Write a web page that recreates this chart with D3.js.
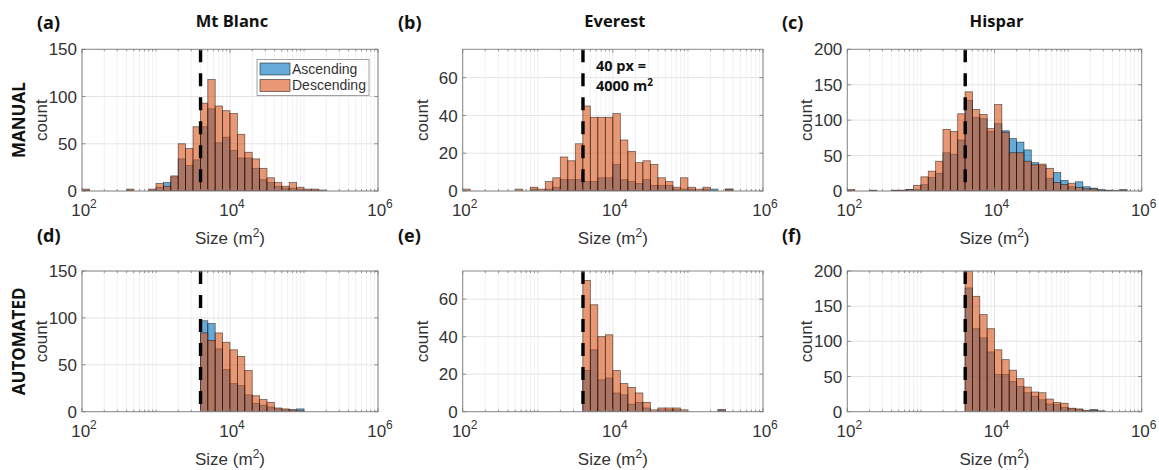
<!DOCTYPE html>
<html>
<head>
<meta charset="utf-8">
<script src="https://cdn.jsdelivr.net/npm/d3@7"></script>
<style>
  body { margin: 0; background: #fff; }
  svg { display: block; }
</style>
</head>
<body>
<svg id="fig" width="1159" height="470"></svg>
<script>
// ---- Data: counts per log10 bin (bin k spans 10^(2+0.1k) .. 10^(2+0.1(k+1))), 40 bins ----
const sizeDomain = [1e2, 1e6];
const threshold = 4000; // 40 px = 4000 m^2
const seriesNames = ["Ascending", "Descending"];
const xTickValues = [1e2, 1e4, 1e6];
const xTickExponents = ["2", "4", "6"];

const blancManualAsc  = [1,0,0,0,0,0,1,0,0,1, 4,9,15,34,27,33,68,87,51,57, 43,35,35,24,12,9,5,3,3,2, 1,1,0,0,0,0,0,0,0,0];
const blancManualDesc = [2,0,0,0,0,0,2,0,0,2, 8,5,16,50,45,68,93,118,90,85, 82,60,41,34,24,14,9,5,9,4, 2,2,1,0,0,0,0,0,0,0];

const everestManualAsc  = [0,0,0,0,0,0,0,0,0,1, 0,1,2,6,6,6,5,5,7,7, 14,6,5,4,6,3,3,3,1,1, 1,0,1,1,0,1,0,0,0,0];
const everestManualDesc = [1,0,0,0,0,0,0,1,0,2, 1,5,7,18,16,25,45,39,39,39, 41,27,21,15,16,14,7,5,2,7, 2,1,2,0,0,1,0,0,0,0];

const hisparManualAsc  = [1,0,0,1,0,0,1,1,2,2, 9,19,25,54,52,72,128,104,102,84, 95,85,74,69,58,40,36,18,26,15, 6,13,6,4,2,1,1,2,0,0];
const hisparManualDesc = [2,0,0,1,0,0,1,1,2,8, 20,28,42,87,84,109,140,115,108,88, 122,83,54,54,42,37,38,32,12,9, 11,5,3,3,1,1,0,1,0,0];

const blancAutoAsc  = [0,0,0,0,0,0,0,0,0,0, 0,0,0,0,0,0,97,94,67,45, 30,28,18,9,7,5,3,2,2,3, 0,0,0,0,0,0,0,0,0,0];
const blancAutoDesc = [0,0,0,0,0,0,0,0,0,0, 0,0,0,0,0,0,84,76,84,74, 66,59,44,17,13,10,4,3,2,1, 0,0,0,0,0,0,0,0,0,0];

const everestAutoAsc  = [0,0,0,0,0,0,0,0,0,0, 0,0,0,0,0,0,22,33,17,18, 10,9,4,5,2,0,1,1,1,0, 0,0,0,0,1,0,0,0,0,0];
const everestAutoDesc = [0,0,0,0,0,0,0,0,0,0, 0,0,0,0,0,0,70,57,40,41, 22,15,13,10,5,1,2,2,2,1, 0,0,0,0,1,0,0,0,0,0];

const hisparAutoAsc  = [0,0,0,0,0,0,0,0,0,0, 0,0,0,0,0,0,176,118,105,85, 53,53,43,36,27,22,17,11,10,6, 4,3,1,3,1,0,0,0,0,0];
const hisparAutoDesc = [0,0,0,0,0,0,0,0,0,0, 0,0,0,0,0,0,200,164,138,118, 88,74,59,47,35,28,27,18,13,12, 5,4,2,2,1,0,0,0,0,0];

const ticks150 = [0, 50, 100, 150];
const ticks75  = [0, 20, 40, 60];
const ticks200 = [0, 50, 100, 150, 200];

// log10 bin edges: 2.0, 2.1, ..., 6.0
const binEdges = d3.range(41).map(i => Math.pow(10, 2 + i / 10));

// ---- Layout ----
const colX = [{l: 82, r: 378, lab: 37}, {l: 462.7, r: 763, lab: 398}, {l: 847.3, r: 1141.7, lab: 782}];
const rowY = [{t: 49.3, b: 191, lab: 29}, {t: 271, b: 411.7, lab: 242}];

const panels = [
  {letter: "(a)", title: "Mt Blanc", col: 0, row: 0, asc: blancManualAsc,   desc: blancManualDesc,   yMax: 150, yTicks: ticks150, legend: true},
  {letter: "(b)", title: "Everest",  col: 1, row: 0, asc: everestManualAsc, desc: everestManualDesc, yMax: 75,  yTicks: ticks75,  note: true},
  {letter: "(c)", title: "Hispar",   col: 2, row: 0, asc: hisparManualAsc,  desc: hisparManualDesc,  yMax: 200, yTicks: ticks200},
  {letter: "(d)", col: 0, row: 1, asc: blancAutoAsc,   desc: blancAutoDesc,   yMax: 150, yTicks: ticks150},
  {letter: "(e)", col: 1, row: 1, asc: everestAutoAsc, desc: everestAutoDesc, yMax: 75,  yTicks: ticks75},
  {letter: "(f)", col: 2, row: 1, asc: hisparAutoAsc,  desc: hisparAutoDesc,  yMax: 200, yTicks: ticks200}
];
const rowLabels = ["MANUAL", "AUTOMATED"];

const BLUE = "#0072BD", ORANGE = "#D95319";
const TEXT = "#333";
const FONT = "'Liberation Sans', Arial, sans-serif";
const BOLD = "'Open Sans', 'Liberation Sans', sans-serif";

const svg = d3.select("#fig");
const defs = svg.append("defs");

// minor log positions 2..9 x 10^n plus odd decades
const minorX = [];
for (let e = 2; e < 6; e++) for (let m = 1; m <= 9; m++) {
  const v = m * Math.pow(10, e);
  if (!xTickValues.includes(v)) minorX.push(v);
}

panels.forEach((p, i) => {
  const fx = colX[p.col], fy = rowY[p.row];
  const x = d3.scaleLog().domain(sizeDomain).range([fx.l, fx.r]);
  const y = d3.scaleLinear().domain([0, p.yMax]).range([fy.b, fy.t]);
  const g = svg.append("g");

  defs.append("clipPath").attr("id", "clip" + i)
    .append("rect").attr("x", fx.l).attr("y", fy.t)
    .attr("width", fx.r - fx.l).attr("height", fy.b - fy.t);

  // grid
  g.append("g").selectAll("line").data(minorX).join("line")
    .attr("x1", d => x(d)).attr("x2", d => x(d))
    .attr("y1", fy.t).attr("y2", fy.b)
    .attr("stroke", "#ededed").attr("stroke-width", 0.8);
  g.append("g").selectAll("line").data(xTickValues).join("line")
    .attr("x1", d => x(d)).attr("x2", d => x(d))
    .attr("y1", fy.t).attr("y2", fy.b)
    .attr("stroke", "#e4e4e4").attr("stroke-width", 1);
  g.append("g").selectAll("line").data(p.yTicks).join("line")
    .attr("x1", fx.l).attr("x2", fx.r)
    .attr("y1", d => y(d)).attr("y2", d => y(d))
    .attr("stroke", "#e4e4e4").attr("stroke-width", 1);

  // histogram bars: Ascending first, Descending overlaid
  const bars = g.append("g").attr("clip-path", `url(#clip${i})`);
  [[p.asc, BLUE], [p.desc, ORANGE]].forEach(([vals, col]) => {
    const data = vals.map((v, k) => ({x0: binEdges[k], x1: binEdges[k + 1], v})).filter(d => d.v > 0);
    bars.append("g").selectAll("rect").data(data).join("rect")
      .attr("x", d => x(d.x0)).attr("width", d => x(d.x1) - x(d.x0))
      .attr("y", d => y(d.v)).attr("height", d => y(0) - y(d.v))
      .attr("fill", col).attr("fill-opacity", 0.6)
      .attr("stroke", "#000").attr("stroke-opacity", 0.55).attr("stroke-width", 0.8);
  });

  // threshold line
  g.append("line")
    .attr("x1", x(threshold)).attr("x2", x(threshold))
    .attr("y1", fy.t).attr("y2", fy.b)
    .attr("stroke", "#000").attr("stroke-width", 3.4)
    .attr("stroke-dasharray", "13,11");

  // frame
  g.append("rect").attr("x", fx.l).attr("y", fy.t)
    .attr("width", fx.r - fx.l).attr("height", fy.b - fy.t)
    .attr("fill", "none").attr("stroke", "#8a8a8a").attr("stroke-width", 1);

  // tick marks
  const tk = g.append("g").attr("stroke", "#777").attr("stroke-width", 0.8);
  xTickValues.forEach(v => {
    tk.append("line").attr("x1", x(v)).attr("x2", x(v)).attr("y1", fy.b).attr("y2", fy.b - 3.5);
    tk.append("line").attr("x1", x(v)).attr("x2", x(v)).attr("y1", fy.t).attr("y2", fy.t + 3.5);
  });
  minorX.forEach(v => {
    tk.append("line").attr("x1", x(v)).attr("x2", x(v)).attr("y1", fy.b).attr("y2", fy.b - 2);
    tk.append("line").attr("x1", x(v)).attr("x2", x(v)).attr("y1", fy.t).attr("y2", fy.t + 2);
  });
  p.yTicks.forEach(v => {
    tk.append("line").attr("x1", fx.l).attr("x2", fx.l + 3.5).attr("y1", y(v)).attr("y2", y(v));
    tk.append("line").attr("x1", fx.r).attr("x2", fx.r - 3.5).attr("y1", y(v)).attr("y2", y(v));
  });

  // y tick labels
  g.append("g").selectAll("text").data(p.yTicks).join("text")
    .attr("x", fx.l - 5).attr("y", d => y(d)).attr("dy", "0.36em")
    .attr("text-anchor", "end").attr("font-family", FONT).attr("font-size", 17)
    .attr("fill", TEXT).text(d => d);

  // x tick labels 10^n
  xTickValues.forEach((v, j) => {
    const t = g.append("text").attr("x", x(v) + 2).attr("y", fy.b + 25)
      .attr("text-anchor", "middle").attr("font-family", FONT).attr("font-size", 17).attr("fill", TEXT);
    t.append("tspan").text("10");
    t.append("tspan").attr("font-size", 12).attr("dy", -8).text(xTickExponents[j]);
  });

  // axis titles
  const xl = g.append("text").attr("x", (fx.l + fx.r) / 2).attr("y", fy.b + 53)
    .attr("text-anchor", "middle").attr("font-family", FONT).attr("font-size", 17).attr("fill", TEXT);
  xl.append("tspan").text("Size (m");
  xl.append("tspan").attr("font-size", 12).attr("dy", -7).text("2");
  xl.append("tspan").attr("dy", 7).text(")");

  g.append("text")
    .attr("transform", `translate(${fx.l - 35},${(fy.t + fy.b) / 2}) rotate(-90)`)
    .attr("text-anchor", "middle").attr("font-family", FONT).attr("font-size", 17)
    .attr("fill", TEXT).text("count");

  // panel letter and title
  g.append("text").attr("x", fx.lab).attr("y", fy.lab)
    .attr("font-family", BOLD).attr("font-weight", "bold").attr("font-size", 18)
    .attr("fill", "#111").text(p.letter);
  if (p.title) {
    g.append("text").attr("x", (fx.l + fx.r) / 2 + 2).attr("y", fy.t - 22)
      .attr("text-anchor", "middle").attr("font-family", BOLD).attr("font-weight", "bold")
      .attr("font-size", 16.5).attr("fill", "#111").text(p.title);
  }

  // threshold annotation
  if (p.note) {
    const ax = x(threshold) + 13;
    g.append("text").attr("x", ax).attr("y", y(60) - 7)
      .attr("font-family", BOLD).attr("font-weight", "bold").attr("font-size", 14.5)
      .attr("fill", "#111").text("40 px =");
    const t2 = g.append("text").attr("x", ax).attr("y", y(60) + 13)
      .attr("font-family", BOLD).attr("font-weight", "bold").attr("font-size", 14.5).attr("fill", "#111");
    t2.append("tspan").text("4000 m");
    t2.append("tspan").attr("font-size", 10).attr("dy", -5).text("2");
  }

  // legend
  if (p.legend) {
    const lg = g.append("g");
    const lx = 257, ly = 59.5;
    lg.append("rect").attr("x", lx).attr("y", ly).attr("width", 112).attr("height", 36)
      .attr("fill", "#fff").attr("stroke", "#8a8a8a").attr("stroke-width", 0.8);
    [BLUE, ORANGE].forEach((c, j) => {
      lg.append("rect").attr("x", lx + 3).attr("y", ly + 3.5 + j * 16.5).attr("width", 30).attr("height", 12)
        .attr("fill", c).attr("fill-opacity", 0.6).attr("stroke", "#000").attr("stroke-opacity", 0.6).attr("stroke-width", 0.8);
      lg.append("text").attr("x", lx + 35).attr("y", ly + 9.5 + j * 16.5).attr("dy", "0.35em")
        .attr("font-family", FONT).attr("font-size", 14).attr("fill", TEXT).text(seriesNames[j]);
    });
  }
});

// row labels
rowLabels.forEach((lab, r) => {
  svg.append("text")
    .attr("transform", `translate(25,${(rowY[r].t + rowY[r].b) / 2}) rotate(-90)`)
    .attr("text-anchor", "middle").attr("font-family", BOLD).attr("font-weight", "bold")
    .attr("font-size", 17).attr("fill", "#111").text(lab);
});
</script>
</body>
</html>
